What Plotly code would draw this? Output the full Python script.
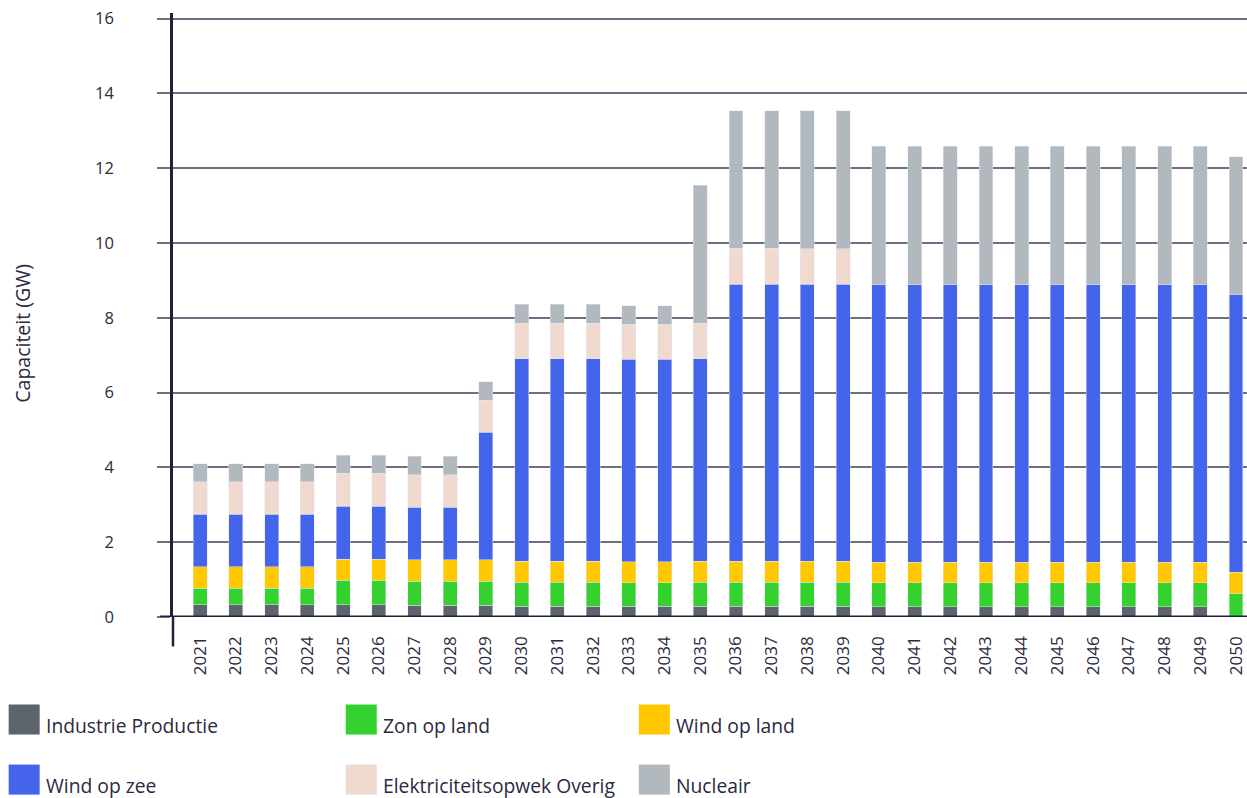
import plotly.graph_objects as go

years = list(range(2021, 2051))
year_labels = [str(y) for y in years]

industrie = [0.33, 0.33, 0.33, 0.33, 0.33, 0.33, 0.31, 0.31, 0.31,
             0.29, 0.29, 0.29, 0.29, 0.29, 0.29, 0.29, 0.29, 0.29, 0.29,
             0.27, 0.27, 0.27, 0.27, 0.27, 0.27, 0.27, 0.27, 0.27, 0.27, 0.0]
zon_op_land = [0.44, 0.44, 0.44, 0.44, 0.65, 0.65, 0.65, 0.65, 0.65,
               0.64, 0.64, 0.64, 0.63, 0.63, 0.64, 0.64, 0.64, 0.64, 0.64,
               0.64, 0.64, 0.64, 0.64, 0.64, 0.64, 0.64, 0.64, 0.64, 0.64, 0.62]
wind_op_land = [0.58, 0.58, 0.58, 0.58, 0.57, 0.57, 0.57, 0.57, 0.57,
                0.56, 0.56, 0.56, 0.56, 0.56, 0.56, 0.56, 0.56, 0.56, 0.56,
                0.56, 0.56, 0.56, 0.56, 0.56, 0.56, 0.56, 0.56, 0.56, 0.56, 0.58]
wind_op_zee = [1.40, 1.40, 1.40, 1.40, 1.41, 1.41, 1.41, 1.41, 3.41,
               5.41, 5.41, 5.41, 5.41, 5.41, 5.41, 7.41, 7.41, 7.41, 7.41,
               7.42, 7.42, 7.42, 7.42, 7.42, 7.42, 7.42, 7.42, 7.42, 7.42, 7.41]
overig = [0.87, 0.87, 0.87, 0.87, 0.89, 0.89, 0.87, 0.87, 0.86,
          0.96, 0.96, 0.96, 0.94, 0.94, 0.96, 0.96, 0.96, 0.94, 0.94,
          0.0, 0.0, 0.0, 0.0, 0.0, 0.0, 0.0, 0.0, 0.0, 0.0, 0.0]
nucleair = [0.48, 0.48, 0.48, 0.48, 0.48, 0.48, 0.49, 0.49, 0.49,
            0.50, 0.50, 0.50, 0.49, 0.49, 3.68, 3.68, 3.68, 3.69, 3.69,
            3.70, 3.70, 3.70, 3.70, 3.70, 3.70, 3.70, 3.70, 3.70, 3.70, 3.69]

series_names = ["Industrie Productie", "Zon op land", "Wind op land",
                "Wind op zee", "Elektriciteitsopwek Overig", "Nucleair"]
series_values = [industrie, zon_op_land, wind_op_land, wind_op_zee, overig, nucleair]
series_colors = ["#5d646e", "#35d22f", "#ffc800", "#4364eb", "#f0d9cf", "#b1b9be"]

y_ticks = list(range(0, 17, 2))

FONT = "Open Sans"
TEXT = "#2b2941"
GRID = "#6f6d80"
NAVY = "#23213a"

W_FIG, H_FIG = 1247, 798
L, R, T, B = 173.3, 0, 13.3, 181.4
PW = W_FIG - L - R
PH = H_FIG - T - B

fig = go.Figure()
for name, vals, col in zip(series_names, series_values, series_colors):
    fig.add_trace(go.Bar(
        x=years, y=vals, name=name, width=0.39,
        marker=dict(color=col, line=dict(color="rgba(225,232,245,0.8)", width=0.6)),
        showlegend=False,
    ))

def px_x(p):
    return (p - L) / PW

def px_y(p):
    return (H_FIG - B - p) / PH

shapes = [
    dict(type="line", xref="paper", yref="y", x0=px_x(160.5), x1=1, y0=0, y1=0,
         line=dict(color=NAVY, width=3), layer="above"),
    dict(type="line", xref="paper", yref="paper", x0=0, x1=0, y0=0, y1=px_y(646),
         line=dict(color=NAVY, width=2.5), layer="above"),
]
annotations = [
    dict(text="Capaciteit (GW)", xref="paper", yref="paper",
         x=px_x(22), y=px_y(333), textangle=-90, showarrow=False,
         xanchor="center", yanchor="middle",
         font=dict(family=FONT, size=19.5, color=TEXT)),
]

col_x = [9, 346, 639]
row_y = [704, 764]
for i, (name, col) in enumerate(zip(series_names, series_colors)):
    r, c = divmod(i, 3)
    x0, y0 = col_x[c], row_y[r]
    shapes.append(dict(type="rect", xref="paper", yref="paper",
                       x0=px_x(x0), x1=px_x(x0 + 31), y0=px_y(y0), y1=px_y(y0 + 30),
                       fillcolor=col, line=dict(width=0)))
    annotations.append(dict(text=name, xref="paper", yref="paper",
                            x=px_x(x0 + 35), y=px_y(y0 + 21), showarrow=False,
                            xanchor="left", yanchor="middle",
                            font=dict(family=FONT, size=19.3, color=TEXT)))

fig.update_layout(
    template="none",
    width=W_FIG, height=H_FIG, autosize=False,
    margin=dict(l=L, r=R, t=T, b=B, pad=0, autoexpand=False),
    paper_bgcolor="white", plot_bgcolor="white",
    barmode="stack", showlegend=False,
    font=dict(family=FONT, color=TEXT),
    shapes=shapes, annotations=annotations,
    xaxis=dict(
        type="linear", range=[2020.238, 2050.308],
        tickvals=years, ticktext=year_labels, tickangle=-90,
        tickfont=dict(family=FONT, size=17, color=TEXT),
        showgrid=False, zeroline=False, showline=False,
        ticks="", ticklabelstandoff=15, automargin=False,
    ),
    yaxis=dict(
        range=[0, 16.15], tickvals=y_ticks, ticktext=[str(v) for v in y_ticks],
        tickfont=dict(family=FONT, size=16.5, color=TEXT),
        showgrid=True, gridcolor=GRID, gridwidth=1.5,
        ticks="outside", ticklen=13, tickcolor=GRID, tickwidth=1.5,
        showline=True, linecolor=NAVY, linewidth=2.5,
        zeroline=False, ticklabelstandoff=40, automargin=False,
    ),
)

fig.write_html("out.html")
